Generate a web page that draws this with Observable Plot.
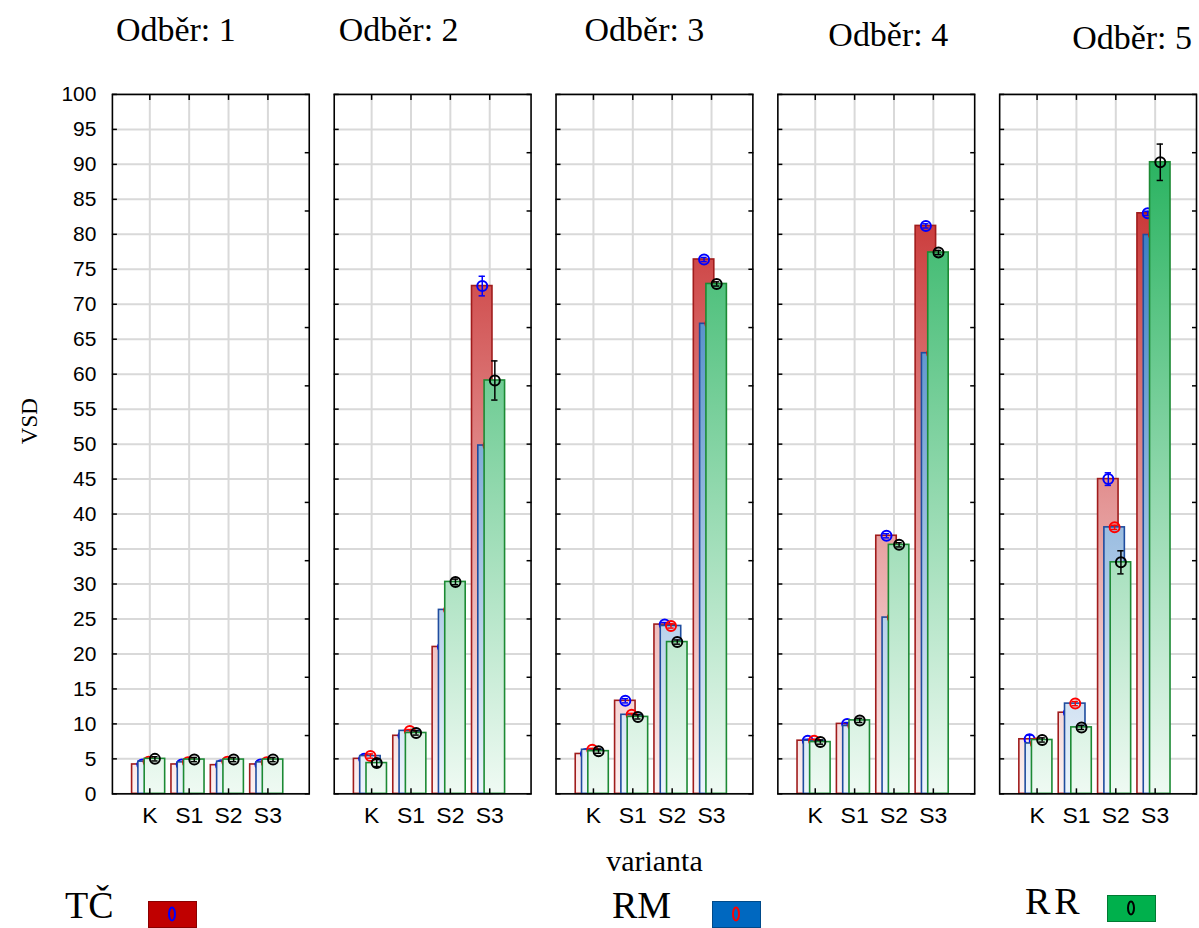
<!DOCTYPE html>
<html><head><meta charset="utf-8">
<script src="https://cdn.jsdelivr.net/npm/d3@7"></script>
<script src="https://cdn.jsdelivr.net/npm/@observablehq/plot@0.6"></script>
<style>
html,body{margin:0;padding:0;background:#fff;overflow:hidden;}
#wrap{position:relative;width:1199px;height:928px;overflow:hidden;}
#chart{position:absolute;left:0;top:0;}
.legtxt{position:absolute;font-family:"Liberation Serif",serif;font-size:38px;line-height:1;color:#000;white-space:nowrap;}
.sw{position:absolute;width:49px;height:27px;box-sizing:border-box;}
.sw svg{position:absolute;left:0;top:0;}
</style></head><body>
<div id="wrap"><div id="chart"></div><div id="legend"></div></div>
<script>
// ---- data ----
const odbery = [1, 2, 3, 4, 5];
const categories = ["K", "S1", "S2", "S3"];
const seriesNames = ["TČ", "RM", "RR"];
// values per odběr (rows) and varianta (columns)
const tcValues = [[4.2, 4.2, 4.1, 4.2], [5.0, 8.3, 21.0, 72.6], [5.7, 13.3, 24.2, 76.4], [7.6, 10.0, 36.9, 81.2], [7.8, 11.6, 45.0, 83.0]];
const tcErrors = [[0.2, 0.2, 0.2, 0.2], [0.2, 0.2, 0.3, 1.4], [0.2, 0.3, 0.3, 0.3], [0.2, 0.2, 0.3, 0.3], [0.6, 0.3, 0.9, 0.3]];
const rmValues = [[4.6, 4.5, 4.6, 4.5], [5.4, 9.0, 26.3, 49.8], [6.3, 11.3, 24.0, 67.2], [7.6, 9.7, 25.2, 63.0], [7.2, 12.9, 38.1, 79.9]];
const rmErrors = [[0.2, 0.2, 0.2, 0.2], [0.3, 0.2, 0.2, 0.3], [0.2, 0.2, 0.3, 0.3], [0.2, 0.2, 0.3, 0.3], [0.3, 0.3, 0.3, 0.3]];
const rrValues = [[5.0, 4.9, 4.9, 4.9], [4.4, 8.7, 30.3, 59.1], [6.1, 11.0, 21.7, 72.9], [7.4, 10.5, 35.6, 77.4], [7.7, 9.5, 33.1, 90.3]];
const rrErrors = [[0.3, 0.3, 0.3, 0.3], [0.5, 0.3, 0.4, 2.8], [0.3, 0.3, 0.3, 0.3], [0.3, 0.3, 0.3, 0.3], [0.3, 0.3, 1.65, 2.6]];
const yTicks = d3.range(0, 101, 5);
const rightTicks = d3.range(0, 13).map(k => k * 100 / 12);

// ---- styling (not data) ----
const style = {
  "TČ": {off: -0.19, grad: "gTC", stroke: "#a01c1c", marker: "#0000ff", c0: "#fdf2f2", c1: "#c01414"},
  "RM": {off: -0.03, grad: "gRM", stroke: "#1f4c9e", marker: "#ff0000", c0: "#eef5fc", c1: "#1262b4"},
  "RR": {off: 0.13, grad: "gRR", stroke: "#1c8a34", marker: "#000000", c0: "#effaf3", c1: "#16ac52"}
};
const halfW = 0.26, capW = 0.08;
const serif = "Liberation Serif";
const titleDx = [-35, -34, -10, 12, 34];
const titleDy = [0, 0, 0, 5, 8];

const valueSets = {"TČ": [tcValues, tcErrors], "RM": [rmValues, rmErrors], "RR": [rrValues, rrErrors]};
const rows = [];
for (const s of seriesNames) {
  const [vals, errs] = valueSets[s];
  odbery.forEach((o, oi) => categories.forEach((c, ci) => {
    rows.push({odber: o, cat: c, ci, series: s, value: vals[oi][ci], err: errs[oi][ci]});
  }));
}
const cx = d => d.ci + 1 + style[d.series].off;

const seriesMarks = seriesNames.flatMap(s => {
  const data = rows.filter(d => d.series === s);
  const st = style[s];
  return [
    Plot.rect(data, {fx: "odber", x1: d => cx(d) - halfW, x2: d => cx(d) + halfW, y1: d => 0, y2: "value",
      fill: `url(#${st.grad})`, stroke: st.stroke, strokeWidth: 1.6}),
    Plot.ruleX(data, {fx: "odber", x: cx, y1: d => d.value - d.err, y2: d => d.value + d.err, stroke: st.marker, strokeWidth: 1.5}),
    Plot.ruleY(data, {fx: "odber", x1: d => cx(d) - capW, x2: d => cx(d) + capW, y: d => d.value + d.err, stroke: st.marker, strokeWidth: 1.5}),
    Plot.ruleY(data, {fx: "odber", x1: d => cx(d) - capW, x2: d => cx(d) + capW, y: d => d.value - d.err, stroke: st.marker, strokeWidth: 1.5}),
    Plot.dot(data, {fx: "odber", x: cx, y: "value", r: 5, stroke: st.marker, strokeWidth: 2, fill: "none"})
  ];
});

const chart = Plot.plot({
  width: 1200, height: 880,
  marginLeft: 110, marginRight: 0, marginTop: 94, marginBottom: 86,
  fx: {domain: odbery, paddingInner: 0.112, paddingOuter: 0, axis: null, label: null},
  x: {domain: [0.05, 5.05]},
  y: {domain: [0, 100]},
  style: {fontFamily: "Liberation Sans, Arial, sans-serif", fontSize: "22px", color: "black", background: "white"},
  marks: [
    Plot.gridY({ticks: yTicks, stroke: "#d9d9d9", strokeOpacity: 1, strokeWidth: 2}),
    Plot.gridX({ticks: [1, 2, 3, 4], stroke: "#d9d9d9", strokeOpacity: 1, strokeWidth: 2}),
    ...seriesMarks,
    Plot.frame({stroke: "black", strokeWidth: 1.6}),
    // y labels (first panel only)
    Plot.axisY({anchor: "left", ticks: yTicks, tickSize: 0, tickPadding: 16, label: null, fontSize: 21}),
    // inward ticks on all panels
    Plot.axisY({anchor: "left", ticks: yTicks, tickSize: 5, dx: 5, tickFormat: () => "", facetAnchor: null, label: null, strokeWidth: 1.5}),
    Plot.axisY({anchor: "right", ticks: rightTicks, tickSize: 5, dx: -5, tickFormat: () => "", facetAnchor: null, label: null, strokeWidth: 1.5}),
    Plot.axisX({anchor: "top", ticks: [1, 2, 3, 4], tickSize: 5, dy: 5, tickFormat: () => "", facetAnchor: null, label: null, strokeWidth: 1.5}),
    Plot.axisX({anchor: "bottom", ticks: [1, 2, 3, 4], tickSize: 5, dy: -5, tickFormat: () => "", facetAnchor: null, label: null, strokeWidth: 1.5}),
    Plot.axisX({anchor: "bottom", ticks: [1, 2, 3, 4], tickSize: 0, tickPadding: 13, tickFormat: d => categories[d - 1], facetAnchor: null, label: null, fontSize: 23}),
    // facet titles
    ...odbery.map((o, i) => Plot.text([o], {fx: d => d, text: d => `Odběr: ${d}`, frameAnchor: "top", lineAnchor: "middle",
      dx: titleDx[i], dy: -64 + titleDy[i], fontFamily: serif, fontSize: 34})),
    Plot.text([1], {fx: d => d, text: () => "VSD", frameAnchor: "left", lineAnchor: "middle", dx: -83, rotate: -90, fontFamily: serif, fontSize: 23}),
    Plot.text([3], {fx: d => d, text: () => "varianta", frameAnchor: "bottom", lineAnchor: "middle", dy: 68, fontFamily: serif, fontSize: 30})
  ]
});

// gradients in plot coordinates (light at 0, saturated at 100)
const svg = d3.select(chart.tagName === "svg" ? chart : chart.querySelector("svg"));
const defs = svg.insert("defs", ":first-child");
for (const s of seriesNames) {
  const st = style[s];
  const g = defs.append("linearGradient").attr("id", st.grad).attr("gradientUnits", "userSpaceOnUse")
    .attr("x1", 0).attr("x2", 0).attr("y1", 794).attr("y2", 94);
  g.append("stop").attr("offset", 0).attr("stop-color", st.c0);
  g.append("stop").attr("offset", 1).attr("stop-color", st.c1);
}
document.getElementById("chart").appendChild(chart);

// legend (below the plot)
const legendItems = [
  {name: "TČ", tx: 65, ty: 886, sx: 148, sy: 901, fill: "#c00000", border: "#8a0000", ring: "#0000ff", ls: 0},
  {name: "RM", tx: 612, ty: 886, sx: 712, sy: 901, fill: "#0068c0", border: "#004a8a", ring: "#ff0000", ls: 0},
  {name: "RR", tx: 1025, ty: 882, sx: 1107, sy: 895, fill: "#00b04c", border: "#007a32", ring: "#000000", ls: 4}
];
const leg = d3.select("#legend");
for (const it of legendItems) {
  leg.append("div").attr("class", "legtxt").style("left", it.tx + "px").style("top", it.ty + "px")
    .style("letter-spacing", it.ls + "px").text(it.name);
  const sw = leg.append("div").attr("class", "sw").style("left", it.sx + "px").style("top", it.sy + "px")
    .style("background", it.fill).style("border", `1.5px solid ${it.border}`);
  const s2 = sw.append("svg").attr("width", 46).attr("height", 24);
  s2.append("ellipse").attr("cx", 23).attr("cy", 12).attr("rx", 3).attr("ry", 6.5)
    .attr("fill", "none").attr("stroke", it.ring).attr("stroke-width", 2);
}
</script>
</body></html>
